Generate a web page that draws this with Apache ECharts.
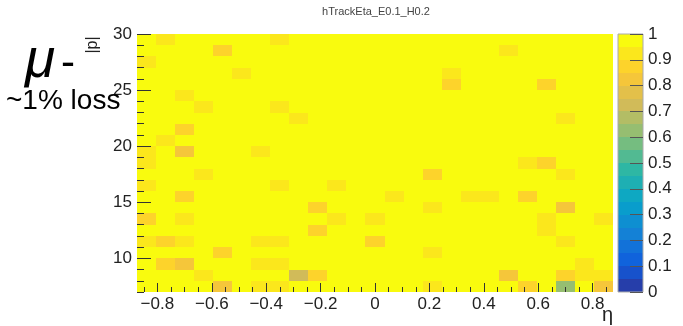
<!DOCTYPE html>
<html>
<head>
<meta charset="utf-8">
<script src="https://cdn.jsdelivr.net/npm/echarts@6/dist/echarts.min.js"></script>
<style>
  html, body { margin: 0; padding: 0; background: #fff; }
  #main { width: 683px; height: 326px; }
</style>
</head>
<body>
<div id="main"></div>
<script>
// binning of the histogram
const etaMin = -0.875, etaMax = 0.875, etaBinWidth = 0.07;   // 25 bins
const pMin = 7, pMax = 30, pBinWidth = 1;                      // 23 bins

const etaLabels = [-0.8, -0.6, -0.4, -0.2, 0, 0.2, 0.4, 0.6, 0.8];
const pLabels = [10, 15, 20, 25, 30];
const zLabels = [0, 0.1, 0.2, 0.3, 0.4, 0.5, 0.6, 0.7, 0.8, 0.9, 1];
const zLevels = [0, 0.05, 0.1, 0.15, 0.2, 0.25, 0.3, 0.35, 0.4, 0.45, 0.5,
                 0.55, 0.6, 0.65, 0.7, 0.75, 0.8, 0.85, 0.9, 0.95, 1];

// efficiency, one row per |p| bin from top (29-30) to bottom (7-8), 25 eta bins each
const effRows = [
  [1,.93,1,1,1,  1,1,.93,1,1,  1,1,1,1,1,  1,1,1,1,1,  1,1,1,1,1],
  [1,1,1,1,.88,  1,1,1,1,1,  1,1,1,1,1,  1,1,1,1,.93,  1,1,1,1,1],
  [.93,1,1,1,1,  1,1,1,1,1,  1,1,1,1,1,  1,1,1,1,1,  1,1,1,1,1],
  [1,1,1,1,1,  .93,1,1,1,1,  1,1,1,1,1,  1,.93,1,1,1,  1,1,1,1,1],
  [1,1,1,1,1,  1,1,1,1,1,  1,1,1,1,1,  1,.88,1,1,1,  1,.88,1,1,1],
  [1,1,.93,1,1,  1,1,1,1,1,  1,1,1,1,1,  1,1,1,1,1,  1,1,1,1,1],
  [1,1,1,.93,1,  1,1,.93,1,1,  1,1,1,1,1,  1,1,1,1,1,  1,1,1,1,1],
  [1,1,1,1,1,  1,1,1,.93,1,  1,1,1,1,1,  1,1,1,1,1,  1,1,.93,1,1],
  [1,1,.88,1,1,  1,1,1,1,1,  1,1,1,1,1,  1,1,1,1,1,  1,1,1,1,1],
  [1,.93,1,1,1,  1,1,1,1,1,  1,1,1,1,1,  1,1,1,1,1,  1,1,1,1,1],
  [.93,1,.83,1,1,  1,.93,1,1,1,  1,1,1,1,1,  1,1,1,1,1,  1,1,1,1,1],
  [.93,1,1,1,1,  1,1,1,1,1,  1,1,1,1,1,  1,1,1,1,1,  .93,.88,1,1,1],
  [1,1,1,.93,1,  1,1,1,1,1,  1,1,1,1,1,  .88,1,1,1,1,  1,1,.93,1,1],
  [.93,1,1,1,1,  1,1,.93,1,1,  .93,1,1,1,1,  1,1,1,1,1,  1,1,1,1,1],
  [1,1,.88,1,1,  1,1,1,1,1,  1,1,1,.93,1,  1,1,.93,.93,1,  .88,1,1,1,1],
  [1,1,1,1,1,  1,1,1,1,.88,  1,1,1,1,1,  .93,1,1,1,1,  1,1,.83,1,1],
  [.88,1,.93,1,1,  1,1,1,1,1,  .93,1,.93,1,1,  1,1,1,1,1,  1,.93,1,1,.93],
  [1,1,1,1,1,  1,1,1,1,.88,  1,1,1,1,1,  1,1,1,1,1,  1,.93,1,1,1],
  [.93,.88,.93,1,1,  1,.93,.93,1,1,  1,1,.88,1,1,  1,1,1,1,1,  1,1,.93,1,1],
  [1,1,1,1,.88,  1,1,1,1,1,  1,1,1,1,1,  .93,1,1,1,1,  1,1,1,1,1],
  [1,.88,.83,1,1,  1,.93,.93,1,1,  1,1,1,1,1,  1,1,1,1,1,  1,1,1,.93,1],
  [1,1,1,.93,1,  1,1,1,.72,.88,  1,1,1,1,1,  1,1,1,1,.83,  1,1,.88,.93,.93],
  [1,1,1,1,.83,  1,.93,.93,1,1,  1,1,1,1,1,  .93,1,1,1,1,  .88,1,.63,1,.83]
];

// ROOT kBird palette
const birdStops = [0, 0.125, 0.25, 0.375, 0.5, 0.625, 0.75, 0.875, 1];
const birdR = [0.2082, 0.0592, 0.0780, 0.0232, 0.1802, 0.5301, 0.8186, 0.9956, 0.9764];
const birdG = [0.1664, 0.3599, 0.5041, 0.6419, 0.7178, 0.7492, 0.7328, 0.7862, 0.9832];
const birdB = [0.5293, 0.8684, 0.8385, 0.7914, 0.6425, 0.4662, 0.3499, 0.1968, 0.0539];

function bird(f) {
  let i = 0;
  while (i < birdStops.length - 2 && f > birdStops[i + 1]) i++;
  const t = (f - birdStops[i]) / (birdStops[i + 1] - birdStops[i]);
  const mix = a => Math.round(255 * (a[i] + t * (a[i + 1] - a[i])));
  return 'rgb(' + mix(birdR) + ',' + mix(birdG) + ',' + mix(birdB) + ')';
}

const nLev = zLevels.length - 1;
const pieces = [];
for (let k = 0; k < nLev; k++) {
  const piece = { gte: zLevels[k], color: bird((k + 1) / nLev) };
  if (k < nLev - 1) piece.lt = zLevels[k + 1]; else piece.lte = zLevels[k + 1];
  pieces.push(piece);
}

const cells = [];
effRows.forEach((row, r) => {
  row.forEach((v, c) => {
    cells.push([etaMin + c * etaBinWidth, pMax - (r + 1) * pBinWidth, v]);
  });
});

const bands = [];
for (let k = 0; k < nLev; k++) {
  bands.push([zLevels[k], zLevels[k + 1], (zLevels[k] + zLevels[k + 1]) / 2]);
}

const etaMinor = [];
for (let v = -0.85; v < 0.88; v += 0.05) etaMinor.push(Math.round(v * 100) / 100);

const font = 'Liberation Sans';
const labelStyle = { fontFamily: font, fontSize: 17, color: '#222' };
const fmtMinus = v => (v < 0 ? '\u2212' + Math.abs(v) : String(v));
const noLine = { show: false, onZero: false };

const chart = echarts.init(document.getElementById('main'));

chart.setOption({
  animation: false,
  grid: [
    { left: 137, top: 34, width: 476, height: 258 },
    { left: 618, top: 34, width: 25, height: 258, show: true, z: 5,
      borderColor: '#aaa', borderWidth: 1, backgroundColor: 'transparent' }
  ],
  xAxis: [
    {
      type: 'value', gridIndex: 0, min: etaMin, max: etaMax, position: 'bottom', z: 10,
      axisLine: noLine, splitLine: { show: false },
      axisTick: { inside: true, length: 9, customValues: etaLabels, lineStyle: { color: '#333' } },
      axisLabel: Object.assign({ customValues: etaLabels, margin: 4, formatter: fmtMinus }, labelStyle)
    },
    {
      type: 'value', gridIndex: 0, min: etaMin, max: etaMax, position: 'bottom', z: 10,
      axisLine: noLine, splitLine: { show: false },
      axisTick: { inside: true, length: 5, customValues: etaMinor, lineStyle: { color: '#333' } },
      axisLabel: { show: false }
    },
    {
      type: 'value', gridIndex: 1, min: 0, max: 1, show: false
    }
  ],
  yAxis: [
    {
      type: 'value', gridIndex: 0, min: pMin, max: pMax, position: 'left', z: 10,
      axisLine: noLine, splitLine: { show: false },
      axisTick: { inside: true, length: 14, customValues: pLabels, lineStyle: { color: '#333' } },
      axisLabel: Object.assign({ customValues: pLabels, margin: 5 }, labelStyle)
    },
    {
      type: 'value', gridIndex: 0, min: pMin, max: pMax, interval: 1, position: 'left', z: 10,
      axisLine: noLine, splitLine: { show: false },
      axisTick: { inside: true, length: 7, lineStyle: { color: '#333' } },
      axisLabel: { show: false }
    },
    {
      type: 'value', gridIndex: 1, min: 0, max: 1, interval: 0.1, position: 'right', z: 10,
      axisLine: noLine, splitLine: { show: false },
      axisTick: { inside: true, length: 13, lineStyle: { color: '#555' } },
      axisLabel: Object.assign({ margin: 5, customValues: zLabels }, labelStyle)
    }
  ],
  visualMap: {
    type: 'piecewise', show: false, dimension: 2, seriesIndex: [0, 1], pieces: pieces
  },
  series: [
    {
      type: 'custom', xAxisIndex: 0, yAxisIndex: 0, data: cells,
      renderItem: (params, api) => {
        const a = api.coord([api.value(0), api.value(1)]);
        const b = api.coord([api.value(0) + etaBinWidth, api.value(1) + pBinWidth]);
        const x0 = Math.round(a[0]), x1 = Math.round(b[0]);
        const y0 = Math.round(b[1]), y1 = Math.round(a[1]);
        return { type: 'rect', shape: { x: x0, y: y0, width: x1 - x0, height: y1 - y0 },
                 style: { fill: api.visual('color') } };
      }
    },
    {
      type: 'custom', xAxisIndex: 2, yAxisIndex: 2, data: bands,
      renderItem: (params, api) => {
        const a = api.coord([0, api.value(0)]);
        const b = api.coord([1, api.value(1)]);
        const y0 = Math.round(b[1]), y1 = Math.round(a[1]);
        return { type: 'rect', shape: { x: a[0], y: y0, width: b[0] - a[0], height: y1 - y0 },
                 style: { fill: api.visual('color') } };
      }
    }
  ],
  graphic: [
    { type: 'text', x: 376, y: 6, z: 20,
      style: { text: 'hTrackEta_E0.1_H0.2', fontFamily: font, fontSize: 11, fill: '#444', textAlign: 'center' } },
    { type: 'text', x: 93, y: 45, rotation: Math.PI / 2, z: 20,
      style: { text: '|p|', fontFamily: font, fontSize: 16, fill: '#222', textAlign: 'center', textVerticalAlign: 'middle' } },
    { type: 'text', x: 602, y: 305, z: 20,
      style: { text: 'η', fontFamily: font, fontSize: 20, fill: '#222' } },
    { type: 'text', x: 25, y: 34, z: 20,
      style: { text: 'μ', fontFamily: font, fontSize: 55, fontStyle: 'italic', fill: '#000', textVerticalAlign: 'top' } },
    { type: 'text', x: 61, y: 43, z: 20,
      style: { text: '-', fontFamily: font, fontSize: 42, fill: '#000', textVerticalAlign: 'top' } },
    { type: 'text', x: 6, y: 87, z: 20,
      style: { text: '~1% loss', fontFamily: font, fontSize: 28, fill: '#000', textVerticalAlign: 'top' } }
  ]
});
</script>
</body>
</html>
